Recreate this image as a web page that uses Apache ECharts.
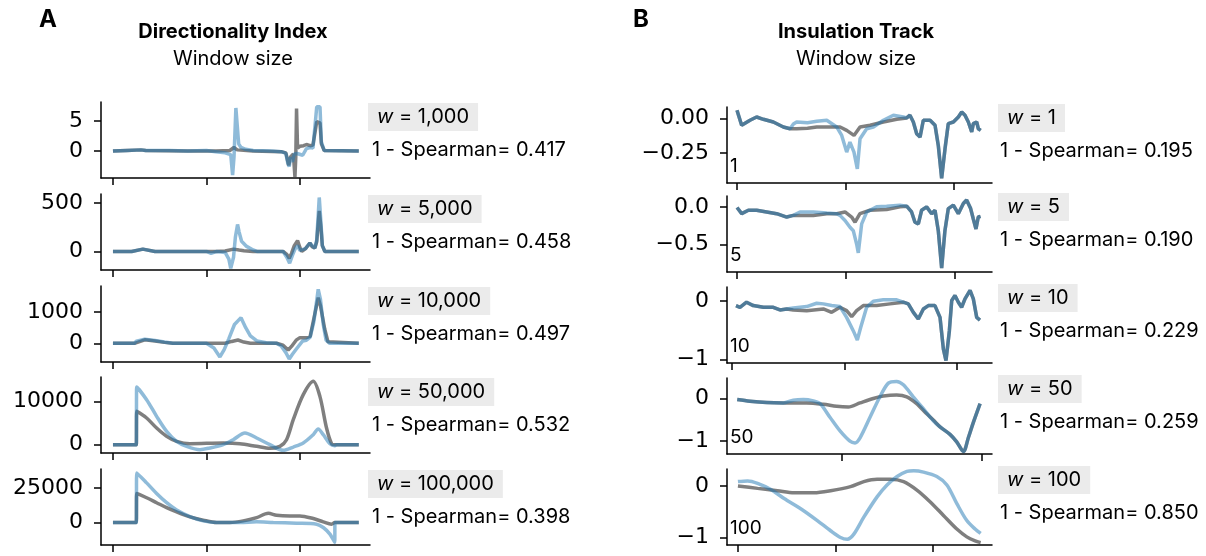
<!DOCTYPE html>
<html><head><meta charset="utf-8">
<script src="https://cdn.jsdelivr.net/npm/echarts@6/dist/echarts.min.js"></script>
<style>html,body{margin:0;padding:0;background:#fff}#c{width:1206px;height:556px}</style>
</head><body><div id="c"></div>
<script>
// ---------- labels ----------
const diWindows = ['1,000', '5,000', '10,000', '50,000', '100,000'];
const diSpearman = ['0.417', '0.458', '0.497', '0.532', '0.398'];
const insWindows = ['1', '5', '10', '50', '100'];
const insSpearman = ['0.195', '0.190', '0.229', '0.259', '0.850'];

// ---------- y tick values / labels ----------
const diYTicks = [[0, 5], [0, 500], [0, 1000], [0, 10000], [0, 25000]];
const insYTicks = [[-0.25, 0], [-0.5, 0], [-1, 0], [-1, 0], [-1, 0]];
const insYTickDecimals = [2, 1, 0, 0, 0];
const diXTicks = [0, 100, 200];
const insXTicks = [[0, 100, 200], [0, 100, 200], [0, 100, 200], [100, 200], [0, 100, 200]];

// ---------- axis limits ----------
const diYRange = [[-4.5, 8.2], [-192, 594], [-597, 1830], [-1920, 15630], [-16200, 38570]];
const diXRange = [-12.8, 275];
const insYRange = [[-0.471, 0.085], [-0.87, 0.145], [-1.058, 0.243], [-1.30, 0.48], [-1.145, 0.33]];
const insXRange = [[-9.2, 235], [-9.2, 234], [-4.4, 231.1], [17.9, 207.1], [-11.2, 260.2]];

// ---------- Directionality index tracks ----------
const diW1000Grey = [[0,0],[15,0.1],[30,0.2],[32,0.5],[35,0.1],[80,0],[110,0],[125,0.1],[129.4,0.6],[133,0.2],[150,0],[180,-0.1],[185,-0.3],[188,-2.4],[190,-1.0],[193,-0.5],[194.7,-4.3],[195.6,-1],[196.4,7.1],[197.5,0.5],[200,0.8],[204,0.9],[207,1.1],[211,0.9],[214,1.0],[216,0.9],[218,4.9],[221.5,4.7],[223,1.2],[226,0.1],[263,0]];
const diW1000Blue = [[0,0],[15,0.1],[30,0.2],[32,0.5],[35,0.1],[60,0.1],[80,0],[100,0.1],[110,-0.1],[120,-0.3],[126,-0.6],[128,-4],[129.5,-1],[130.5,3],[131.5,7.2],[133,7],[134.5,1.2],[137,0.6],[142,0.3],[150,0.1],[170,0],[180,-0.1],[185,-0.4],[187,-2.0],[188.6,-2.6],[190,-1.0],[192,-1.8],[194,-0.5],[197,-0.4],[203,-0.7],[207,0.4],[211,0.6],[214,0.5],[216,0.8],[218,7.4],[221.5,7.4],[223,1.5],[226,0.1],[263,0]];

const diW5000Grey = [[0,0],[20,0],[32,24],[45,0],[110,0],[120,5],[129,24],[135,15],[140,8],[150,0],[182,0],[186,-30],[188.6,-70],[191,-20],[194,60],[197.5,112],[200,40],[202,0],[206,30],[210.7,87],[213,50],[216,35],[218,100],[220.7,419],[222.5,250],[224,60],[226.7,0],[263,0]];
const diW5000Blue = [[0,0],[20,0],[32,24],[45,0],[100,0],[105,-20],[111,0],[120,-10],[124,-80],[126,-175],[129,-60],[131,150],[133.3,279],[135,200],[137.6,105],[143,52],[150,15],[154,0],[182,0],[186,-60],[189,-122],[192,-40],[195,30],[197.5,60],[200,10],[202,0],[206,30],[210.7,87],[213,60],[216,35],[218,120],[220.7,558],[222.5,300],[224,60],[226.7,0],[263,0]];

const diW10000Grey = [[0,0],[23,0],[25,60],[34,110],[45,75],[55,30],[64,0],[110,0],[120,0],[127,60],[133.7,106],[140,40],[147,0],[175,0],[182,-60],[187.5,-213],[191,-100],[196,100],[200,181],[207,181],[211,220],[215,800],[219.6,1458],[222,1200],[226.6,447],[230,50],[232,0],[263,0]];
const diW10000Blue = [[0,0],[23,0],[25,70],[34,128],[45,90],[55,40],[64,0],[100,0],[102,-50],[108,-150],[114.4,-436],[119,-200],[124,150],[130,600],[137,819],[142,500],[147,234],[154,75],[164,20],[175,0],[180,-85],[185,-300],[188.6,-500],[192,-350],[196,-190],[203,75],[207,100],[211,200],[215,700],[219.6,1724],[222,1400],[225,600],[228,100],[232,0],[263,0]];

const diW50000Grey = [[0,0],[25,0],[25.2,6500],[25.4,7700],[36,6160],[46.7,3850],[57.4,1925],[68.1,770],[82.4,230],[118,385],[135.8,230],[153.7,-385],[167.9,-850],[178.6,-385],[185.7,1150],[192.9,5780],[203.6,11550],[214.3,14630],[221.4,11160],[228.5,3850],[233.9,230],[237.4,0],[263,0]];
const diW50000Blue = [[0,0],[25,0],[25.2,11500],[25.4,13330],[36,10400],[46.7,6550],[57.4,3080],[68.1,770],[78.8,-385],[93,-1150],[103.7,-770],[118,0],[128.7,1150],[141.2,2700],[153.7,1540],[167.9,0],[182.2,-1310],[192.9,-540],[203.6,385],[214.3,2310],[219.6,3620],[225,2310],[232.1,230],[237.4,-230],[239.2,0],[263,0]];

const diW100000Grey = [[0,0],[25,0],[25.2,18000],[25.4,20940],[36,17850],[46.7,14280],[57.4,10710],[68.1,7620],[82.4,4050],[96.6,1670],[110.8,0],[125.1,0],[139.4,1190],[153.7,3570],[166.2,6660],[175,5240],[189.3,4760],[200,4760],[214.3,2860],[225,480],[233.9,-1190],[237.4,0],[263,0]];
const diW100000Blue = [[0,0],[25,0],[25.2,31000],[25.4,35700],[36,28560],[46.7,20940],[57.4,14280],[68.1,9040],[82.4,4280],[96.6,1190],[110.8,0],[135.8,0],[153.7,480],[171.5,0],[196.4,-480],[217.8,-1190],[225,-3570],[232.1,-8330],[237.3,-14280],[237.5,0],[263,0]];

// ---------- Insulation tracks ----------
const insW1Grey = [[0,0.061],[4.3,-0.049],[12,-0.012],[18.1,0.012],[24.3,-0.005],[33.5,-0.025],[42.7,-0.061],[48.9,-0.074],[55,-0.074],[65,-0.07],[73.5,-0.061],[85.7,-0.061],[95,-0.061],[101.1,-0.086],[107.8,-0.123],[113.4,-0.061],[122.6,-0.049],[134.9,-0.025],[147.2,-0.005],[156.4,0.005],[159.4,0.025],[162.5,-0.025],[165.6,-0.110],[168.7,-0.135],[171.7,-0.012],[177.9,-0.012],[182.5,-0.049],[185.5,-0.196],[188.6,-0.436],[191.7,-0.221],[194.7,-0.037],[199.4,-0.025],[204,0.012],[207.1,0.049],[210.1,0.025],[213.2,-0.025],[216.3,-0.098],[217.8,-0.037],[220.9,-0.025],[222.4,-0.074],[224.6,-0.086]];
const insW1Blue = [[0,0.061],[4.3,-0.049],[12,-0.012],[18.1,0.012],[24.3,-0.005],[33.5,-0.025],[42.7,-0.061],[48.9,-0.074],[52,-0.04],[55,-0.025],[65,-0.03],[73.5,-0.020],[82.7,-0.012],[91.9,-0.061],[96.5,-0.123],[101.1,-0.245],[104.1,-0.172],[107.8,-0.245],[110.9,-0.368],[113.4,-0.147],[119.5,-0.074],[125.7,-0.061],[134.9,-0.012],[144.1,0.025],[153.3,0.012],[156.4,0.005],[159.4,0.025],[162.5,-0.025],[165.6,-0.110],[168.7,-0.135],[171.7,-0.012],[177.9,-0.012],[182.5,-0.049],[185.5,-0.196],[188.6,-0.436],[191.7,-0.221],[194.7,-0.037],[199.4,-0.025],[204,0.012],[207.1,0.049],[210.1,0.025],[213.2,-0.025],[216.3,-0.098],[217.8,-0.037],[220.9,-0.025],[222.4,-0.074],[224.6,-0.086]];

const insW5Grey = [[0,-0.009],[4.3,-0.091],[10.4,-0.045],[18,-0.045],[27.2,-0.068],[36.4,-0.091],[45.6,-0.136],[51.7,-0.114],[57.8,-0.114],[70,-0.114],[82.3,-0.091],[91.4,-0.091],[99.1,-0.068],[105.2,-0.136],[108.3,-0.205],[112.8,-0.091],[122,-0.045],[137.3,-0.036],[149.5,0],[155.7,0.009],[160.2,-0.068],[163.3,-0.205],[166.4,-0.227],[169.4,-0.045],[174,0],[178.6,-0.091],[181.7,-0.045],[184.7,-0.318],[187.8,-0.818],[190.8,-0.318],[193.9,-0.023],[198.5,0.023],[203.1,-0.091],[207.7,0.045],[210.7,0.091],[214.4,-0.023],[216.8,-0.159],[219.3,-0.295],[221.4,-0.136],[223.5,-0.127]];
const insW5Blue = [[0,-0.009],[4.3,-0.091],[10.4,-0.045],[18,-0.045],[27.2,-0.068],[36.4,-0.091],[45.6,-0.136],[51.7,-0.114],[57.8,-0.068],[70,-0.068],[82.3,-0.082],[91.4,-0.091],[94.5,-0.114],[99.1,-0.182],[103.7,-0.273],[106.7,-0.318],[109.8,-0.5],[111.3,-0.614],[114.4,-0.227],[119,-0.068],[128.1,0],[137.3,0.009],[149.5,0.023],[155.7,0.009],[160.2,-0.068],[163.3,-0.205],[166.4,-0.227],[169.4,-0.045],[174,0],[178.6,-0.091],[181.7,-0.045],[184.7,-0.318],[187.8,-0.818],[190.8,-0.318],[193.9,-0.023],[198.5,0.023],[203.1,-0.091],[207.7,0.045],[210.7,0.091],[214.4,-0.023],[216.8,-0.159],[219.3,-0.295],[221.4,-0.136],[223.5,-0.127]];

const insW10Grey = [[3.6,-0.075],[7.1,-0.104],[13,-0.017],[18.9,-0.075],[27.9,-0.104],[36.7,-0.104],[42.7,-0.150],[48.6,-0.133],[54.5,-0.150],[66.4,-0.162],[81.2,-0.133],[88.6,-0.191],[96,-0.104],[101.9,-0.162],[106.4,-0.266],[110.8,-0.162],[116.7,-0.075],[128.6,-0.075],[140.4,-0.046],[152.3,-0.017],[156.7,-0.046],[161.2,-0.191],[165.6,-0.306],[170.1,-0.133],[174.5,-0.075],[180.4,-0.075],[184.9,-0.277],[187.9,-0.821],[190.2,-1.017],[193.2,-0.509],[195.3,0.012],[198.2,0.098],[201.2,-0.017],[204.1,-0.104],[207.1,0.040],[211.6,0.185],[214.5,0.040],[217.5,-0.277],[220.4,-0.324]];
const insW10Blue = [[3.6,-0.075],[7.1,-0.104],[13,-0.017],[18.9,-0.075],[27.9,-0.104],[36.7,-0.104],[42.7,-0.150],[48.6,-0.133],[54.5,-0.116],[66.4,-0.092],[75.3,-0.035],[81.2,-0.046],[88.6,-0.075],[96,-0.092],[101.9,-0.277],[107.9,-0.509],[111.4,-0.665],[114.4,-0.451],[119.7,-0.104],[125.6,0],[134.5,0.023],[146.4,0.023],[152.3,-0.017],[156.7,-0.046],[161.2,-0.191],[165.6,-0.306],[170.1,-0.133],[174.5,-0.075],[180.4,-0.075],[184.9,-0.277],[187.9,-0.821],[190.2,-1.017],[193.2,-0.509],[195.3,0.012],[198.2,0.098],[201.2,-0.017],[204.1,-0.104],[207.1,0.040],[211.6,0.185],[214.5,0.040],[217.5,-0.277],[220.4,-0.324]];

const insW50Grey = [[25.2,-0.024],[34.3,-0.064],[46.2,-0.096],[58.1,-0.104],[65.2,-0.104],[74.8,-0.104],[86.7,-0.136],[96.2,-0.184],[104.5,-0.2],[112.9,-0.104],[122.4,0],[129.5,0.056],[139,0.08],[146.2,0.04],[153.3,-0.12],[160.5,-0.36],[165.2,-0.504],[170,-0.664],[177.1,-0.84],[181.9,-1.016],[186.7,-1.24],[190.2,-0.92],[193.8,-0.56],[198.6,-0.12]];
const insW50Blue = [[25.2,-0.024],[34.3,-0.064],[46.2,-0.096],[58.1,-0.104],[65.2,-0.04],[72.4,-0.024],[79.5,-0.056],[84.3,-0.12],[91.4,-0.44],[98.6,-0.76],[105.7,-1.0],[109.3,-1.04],[112.9,-0.92],[120,-0.44],[127.1,0.04],[133.1,0.36],[139,0.4],[143.8,0.32],[150.9,0.04],[158.1,-0.24],[165.2,-0.52],[170,-0.664],[177.1,-0.84],[181.9,-1.016],[186.7,-1.24],[190.2,-0.92],[193.8,-0.56],[198.6,-0.12]];

const insW100Grey = [[0,0],[20.1,-0.046],[40.5,-0.092],[57.5,-0.132],[77.9,-0.132],[94.9,-0.092],[115.3,-0.013],[128.9,0.086],[142.5,0.132],[156.1,0.132],[169.7,0.086],[183.3,-0.079],[197,-0.309],[210.5,-0.572],[224.2,-0.836],[234.4,-0.987],[242.9,-1.066],[248.6,-1.099]];
const insW100Blue = [[0,0.086],[9.9,0.099],[20.1,0.053],[33.7,-0.066],[47.3,-0.243],[64.3,-0.441],[81.3,-0.671],[94.9,-0.868],[105.1,-1.0],[112,-1.033],[118.7,-0.934],[128.9,-0.605],[142.5,-0.211],[152.7,0.020],[163,0.184],[173.1,0.283],[180,0.296],[190.1,0.270],[203.7,0.184],[214,0.020],[224.2,-0.342],[234.4,-0.671],[242.9,-0.836],[248.6,-0.921]];

const diGrey = [diW1000Grey, diW5000Grey, diW10000Grey, diW50000Grey, diW100000Grey];
const diBlue = [diW1000Blue, diW5000Blue, diW10000Blue, diW50000Blue, diW100000Blue];
const insGrey = [insW1Grey, insW5Grey, insW10Grey, insW50Grey, insW100Grey];
const insBlue = [insW1Blue, insW5Blue, insW10Blue, insW50Blue, insW100Blue];

// ---------- layout ----------
const leftTops = [102, 194, 286, 377, 469];
const rightTops = [107, 196, 287, 378, 469];
const panelH = 76;
const leftX = 101, leftW = 269;
const rightX = 727, rightW = 265;
const smoothPanels = [false, false, false, true, true];

const GREY = 'rgba(0,0,0,0.5)';
const BLUE = 'rgba(31,119,180,0.5)';
const TICK_FONT = 'DejaVu Sans';
const TEXT_FONT = 'Inter';

const grids = [], xAxes = [], yAxes = [], series = [], graphics = [];

function addPanel(idx, left, top, width, xr, xt, yr, yt, fmt, grey, blue, smooth) {
  grids.push({left: left, top: top, width: width, height: panelH, containLabel: false});
  const axLine = {show: true, onZero: false, lineStyle: {color: '#000', width: 1.5}};
  const tick = {show: true, length: 7, lineStyle: {color: '#000', width: 1.5}};
  xAxes.push({type: 'value', gridIndex: idx, min: xr[0], max: xr[1],
    axisLine: axLine, axisTick: Object.assign({customValues: xt}, tick),
    axisLabel: {show: false, customValues: xt}, splitLine: {show: false}});
  yAxes.push({type: 'value', gridIndex: idx, min: yr[0], max: yr[1],
    axisLine: axLine, axisTick: Object.assign({customValues: yt}, tick),
    axisLabel: {customValues: yt, formatter: fmt, fontFamily: TICK_FONT, fontSize: 22, color: '#000', margin: 18},
    splitLine: {show: false}});
  const common = {type: 'line', xAxisIndex: idx, yAxisIndex: idx, showSymbol: false, symbol: 'none',
    silent: true, animation: false, smooth: smooth ? 0.3 : false};
  series.push(Object.assign({data: grey, lineStyle: {color: GREY, width: 3.5}, z: 2}, common));
  series.push(Object.assign({data: blue, lineStyle: {color: BLUE, width: 3.5}, z: 3}, common));
}

for (let i = 0; i < 5; i++) {
  addPanel(i, leftX, leftTops[i], leftW, diXRange, diXTicks, diYRange[i], diYTicks[i],
    v => String(v), diGrey[i], diBlue[i], smoothPanels[i]);
}
for (let i = 0; i < 5; i++) {
  const dec = insYTickDecimals[i];
  addPanel(5 + i, rightX, rightTops[i], rightW, insXRange[i], insXTicks[i], insYRange[i], insYTicks[i],
    v => Number(v).toFixed(dec).replace('-', '\u2212'), insGrey[i], insBlue[i], smoothPanels[i]);
}

function txt(x, y, text, font, align) {
  return {type: 'text', x: x, y: y, silent: true,
    style: {text: text, font: font, fill: '#000', textAlign: align || 'left', textVerticalAlign: 'middle'}};
}
function wBox(x, y, w) {
  return {type: 'text', x: x, y: y, silent: true,
    style: {text: '{i|w} = ' + w, fill: '#000', textVerticalAlign: 'middle', textAlign: 'left',
      backgroundColor: '#ebebeb', padding: [4, 9, 4, 9], font: '20px ' + TEXT_FONT,
      rich: {i: {fontStyle: 'italic', fontFamily: TEXT_FONT, fontSize: 20}}}};
}

graphics.push(txt(48, 20, 'A', 'bold 24px ' + TEXT_FONT, 'center'));
graphics.push(txt(233, 32, 'Directionality Index', 'bold 20px ' + TEXT_FONT, 'center'));
graphics.push(txt(233, 59, 'Window size', '20px ' + TEXT_FONT, 'center'));
graphics.push(txt(641, 20, 'B', 'bold 24px ' + TEXT_FONT, 'center'));
graphics.push(txt(856, 32, 'Insulation Track', 'bold 20px ' + TEXT_FONT, 'center'));
graphics.push(txt(856, 59, 'Window size', '20px ' + TEXT_FONT, 'center'));

for (let i = 0; i < 5; i++) {
  graphics.push(wBox(368, leftTops[i] + 15, diWindows[i]));
  graphics.push(txt(372, leftTops[i] + 48, '1 - Spearman= ' + diSpearman[i], '20px ' + TEXT_FONT));
  graphics.push(wBox(998, rightTops[i] + 11, insWindows[i]));
  graphics.push(txt(1000, rightTops[i] + 44, '1 - Spearman= ' + insSpearman[i], '20px ' + TEXT_FONT));
  graphics.push(txt(730, rightTops[i] + panelH - 17, insWindows[i], '19px ' + TEXT_FONT));
}

const chart = echarts.init(document.getElementById('c'), null, {renderer: 'canvas'});
chart.setOption({
  animation: false,
  backgroundColor: '#fff',
  grid: grids, xAxis: xAxes, yAxis: yAxes, series: series, graphic: graphics
});
</script></body></html>
